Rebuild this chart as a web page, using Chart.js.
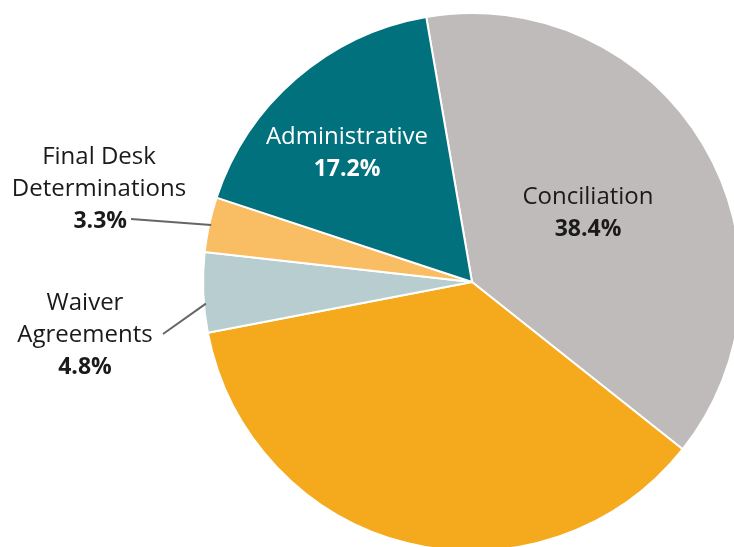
<!DOCTYPE html>
<html>
<head>
<meta charset="utf-8">
<script src="https://cdn.jsdelivr.net/npm/chart.js@4.4.0/dist/chart.umd.min.js"></script>
<style>
html,body{margin:0;padding:0;background:#fff;overflow:hidden;width:734px;height:547px;}
#wrap{position:absolute;left:0;top:0;width:760px;height:570px;}
</style>
</head>
<body>
<div id="wrap"><canvas id="c" width="760" height="570"></canvas></div>
<script>
// Data
const categories = ["Conciliation", "Other", "Waiver Agreements", "Final Desk Determinations", "Administrative"];
const shares = [38.4, 36.3, 4.8, 3.3, 17.2];
const sliceColors = ["#bfbbba", "#f5a91d", "#b8cdd0", "#f9bd63", "#00717d"];
// Label lines (text shown for each slice; null = no label)
const labelLines = [["Conciliation"], null, ["Waiver", "Agreements"], ["Final Desk", "Determinations"], ["Administrative"]];
const valueLabels = ["38.4%", null, "4.8%", "3.3%", "17.2%"];

// Label layout relative to pie centre (px) — text only
const labelLayout = [
  {dx: 116, dy: -85, color: "#1a1a1a"},
  null,
  {dx: -387, dy: 21, color: "#1a1a1a", leader: {x: -309, y: 52, frac: 0.36}},
  {dx: -373, dy: -125, color: "#1a1a1a", leader: {x: -341, y: -63, frac: 0.5}, valueAlign: 'right', valueX: -345},
  {dx: -125, dy: -145, color: "#ffffff"}
];

const labelPlugin = {
  id: 'labels',
  afterDatasetsDraw(chart) {
    const ctx = chart.ctx;
    const meta = chart.getDatasetMeta(0);
    const fam = '"Open Sans", "Lato", sans-serif';
    const lh = 32;
    meta.data.forEach((arc, i) => {
      const L = labelLayout[i];
      if (!L) return;
      const cx = arc.x, cy = arc.y, r = arc.outerRadius;
      ctx.save();
      // leader line
      if (L.leader) {
        const a = arc.startAngle + (arc.endAngle - arc.startAngle) * L.leader.frac;
        const ex = cx + Math.cos(a) * (r - 2);
        const ey = cy + Math.sin(a) * (r - 2);
        ctx.strokeStyle = "#666666";
        ctx.lineWidth = 2;
        ctx.beginPath();
        ctx.moveTo(cx + L.leader.x, cy + L.leader.y);
        ctx.lineTo(ex, ey);
        ctx.stroke();
      }
      ctx.fillStyle = L.color;
      ctx.textBaseline = 'middle';
      ctx.textAlign = 'center';
      ctx.font = '400 24px ' + fam;
      const lines = labelLines[i];
      let y = cy + L.dy;
      lines.forEach(t => { ctx.fillText(t, cx + L.dx, y); y += lh; });
      ctx.font = '700 23px ' + fam;
      if (L.valueAlign === 'right') {
        ctx.textAlign = 'right';
        ctx.fillText(valueLabels[i], cx + L.valueX, y);
      } else {
        ctx.fillText(valueLabels[i], cx + L.dx, y);
      }
      ctx.restore();
    });
  }
};

new Chart(document.getElementById('c'), {
  type: 'pie',
  data: {
    labels: categories,
    datasets: [{
      data: shares,
      backgroundColor: sliceColors,
      borderColor: '#ffffff',
      borderWidth: 2
    }]
  },
  options: {
    responsive: false,
    animation: false,
    rotation: -9.8,
    layout: {padding: {left: 202, right: 18, top: 12, bottom: 18}},
    plugins: {legend: {display: false}, tooltip: {enabled: false}}
  },
  plugins: [labelPlugin]
});
</script>
</body>
</html>
